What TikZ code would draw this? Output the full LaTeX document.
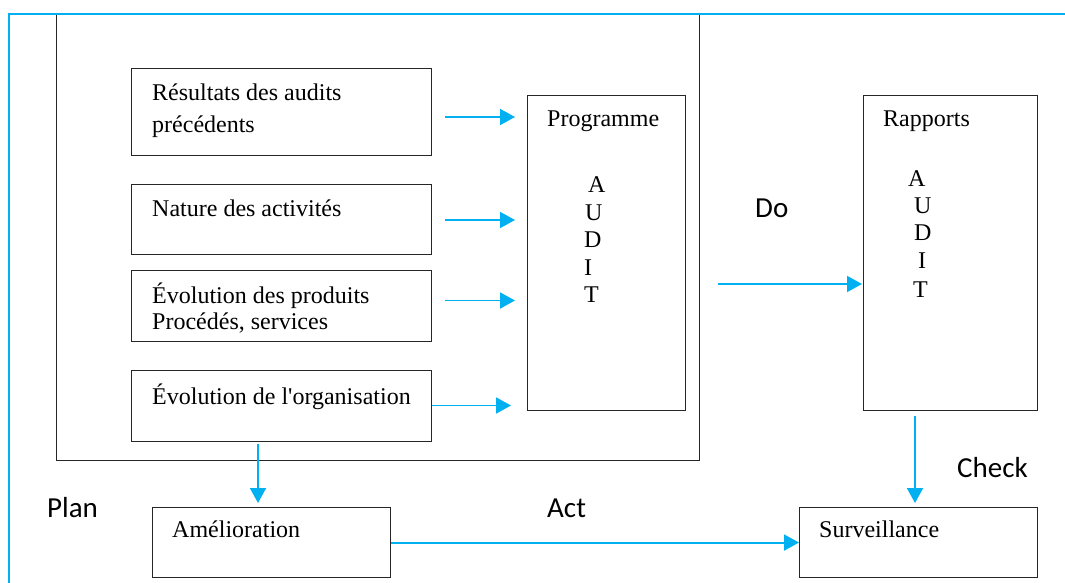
\documentclass[tikz,border=0pt]{standalone}
\usepackage{fontspec}
\setmainfont{Liberation Serif}[Ligatures=TeXOff]
\newfontfamily\phasefont{Carlito}
\usetikzlibrary{arrows.meta,calc}
\definecolor{cycleblue}{RGB}{0,176,240}
\begin{document}
\begin{tikzpicture}[x=1pt,y=-1pt,
  box/.style={draw=black!85,line width=1.1pt,inner sep=0pt,anchor=north west},
  txt/.style={anchor=base west,inner sep=0pt,font=\fontsize{24}{28}\selectfont},
  phase/.style={anchor=base west,inner sep=0pt,font=\phasefont\fontsize{29}{34}\selectfont},
  flow/.style={draw=cycleblue,line width=1.9pt,-{Triangle[length=15pt,width=16pt]}},
]
\useasboundingbox (0,0) rectangle (1065,583);

% planning frame
\node[box,minimum width=643pt,minimum height=446pt] (plan) at (56,14) {};

% outer blue frame
\coordinate (fb) at (9,583);
\coordinate (fc) at (9,14);
\coordinate (fr) at (1065,14);
\draw[cycleblue,line width=1.9pt] (fb) -- (fc) -- (fr);

% input boxes
\node[box,minimum width=300pt,minimum height=87pt] (res) at (131,68) {};
\node[box,minimum width=300pt,minimum height=70pt] (nat) at (131,184) {};
\node[box,minimum width=300pt,minimum height=71pt] (prod) at (131,270) {};
\node[box,minimum width=300pt,minimum height=71pt] (org) at (131,370) {};

\node[txt] (resA) at (152,101) {Résultats des audits};
\node[txt] (resB) at (152,132) {précédents};
\node[txt] (natA) at (152,216) {Nature des activités};
\node[txt] (prodA) at (152,303) {Évolution des produits};
\node[txt] (prodB) at (152,329) {Procédés, services};
\node[txt] (orgA) at (152,404) {Évolution de l'organisation};

% programme and reports
\node[box,minimum width=158pt,minimum height=315pt] (prog) at (527,95) {};
\node[txt] (progT) at (547,127) {Programme};
\node[txt] (pA) at (588,192) {A};
\node[txt] (pU) at (585,220) {U};
\node[txt] (pD) at (584,247) {D};
\node[txt] (pI) at (584,275) {I};
\node[txt] (pT) at (584,302) {T};

\node[box,minimum width=174pt,minimum height=315pt] (rap) at (863,95) {};
\node[txt] (rapT) at (883,127) {Rapports};
\node[txt] (rA) at (908,186) {A};
\node[txt] (rU) at (914,213) {U};
\node[txt] (rD) at (914,240) {D};
\node[txt] (rI) at (918,268) {I};
\node[txt] (rT) at (913,297) {T};

% bottom boxes
\node[box,minimum width=238pt,minimum height=70pt] (amel) at (152,507) {};
\node[txt] (amelT) at (172,537) {Amélioration};
\node[box,minimum width=238pt,minimum height=70pt] (surv) at (799,507) {};
\node[txt] (survT) at (819,537) {Surveillance};

% phase labels
\node[phase] (lplan) at (47,517) {Plan};
\node[phase] (ldo) at (755,217) {Do};
\node[phase] (lact) at (547,517) {Act};
\node[phase] (lcheck) at (957,477) {Check};

% arrow levels
\coordinate (y1) at (0,117);
\coordinate (y2) at (0,220);
\coordinate (y3) at (0,300.5);
\coordinate (y4) at (0,405.5);
\coordinate (y5) at (0,284);
\coordinate (xd) at (258,0);
\coordinate (xc) at (915,0);

\draw[flow,shorten <=13pt,shorten >=12pt] (res.east |- y1) -- (prog.west |- y1);
\draw[flow,shorten <=13pt,shorten >=12pt] (nat.east |- y2) -- (prog.west |- y2);
\draw[flow,shorten <=13pt,shorten >=12pt] (prod.east |- y3) -- (prog.west |- y3);
\draw[flow,shorten >=16pt] (org.east |- y4) -- (prog.west |- y4);
\draw[flow,shorten <=32pt,shorten >=1pt] (prog.east |- y5) -- (rap.west |- y5);
\draw[flow,shorten <=2pt,shorten >=4pt] (org.south -| xd) -- (amel.north -| xd);
\draw[flow,shorten <=5pt,shorten >=4pt] (rap.south -| xc) -- (surv.north -| xc);
\draw[flow] (amel.east) -- (surv.west);
\end{tikzpicture}
\end{document}
